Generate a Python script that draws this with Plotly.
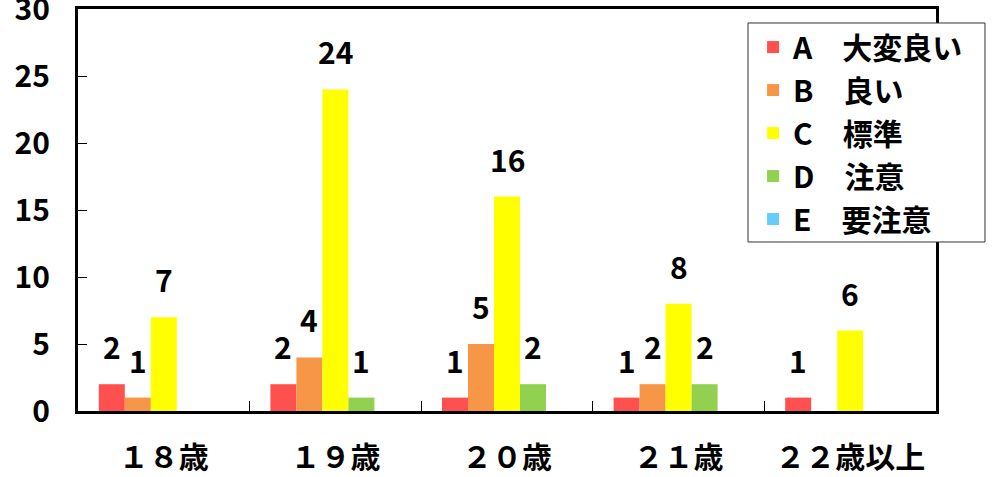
import plotly.graph_objects as go

categories = ["１８歳", "１９歳", "２０歳", "２１歳", "２２歳以上"]
series_names = ["A\u3000大変良い", "B\u3000良い", "C\u3000標準", "D\u3000注意", "E\u3000要注意"]
values_A = [2, 2, 1, 1, 1]
values_B = [1, 4, 5, 2, 0]
values_C = [7, 24, 16, 8, 6]
values_D = [0, 1, 2, 2, 0]
values_E = [0, 0, 0, 0, 0]
colors = ["#FF5050", "#F79646", "#FFFF00", "#92D050", "#66CCFF"]
y_ticks = [0, 5, 10, 15, 20, 25, 30]

all_values = [values_A, values_B, values_C, values_D, values_E]
FONT = "Noto Sans CJK JP"
FS = 30
BARGAP = 0.2424

fig = go.Figure()
for k, (name, vals, col) in enumerate(zip(series_names, all_values, colors)):
    fig.add_trace(go.Bar(
        x=categories, y=vals, name=name, marker_color=col,
        marker_line_width=0, legendgroup=name,
    ))

# data labels above bars (skip zeros)
n = len(all_values)
w = (1 - BARGAP) / n
annotations = []
for k, vals in enumerate(all_values):
    for i, v in enumerate(vals):
        if v > 0:
            annotations.append(dict(
                x=i + (k - (n - 1) / 2) * w, y=v, xref="x", yref="y",
                text=str(v), showarrow=False, yanchor="bottom", yshift=14,
                font=dict(family=FONT, size=FS, color="black", weight="bold"),
            ))

# legend frame (white box with thin border), drawn over the plot border
legend_box = dict(
    type="rect", xref="paper", yref="paper",
    x0=0.7809, x1=1.0571, y0=0.4204, y1=0.9652,
    fillcolor="white", line=dict(color="#333333", width=1), layer="above",
)

fig.update_layout(
    width=995, height=477,
    margin=dict(l=78, r=59, t=9, b=66, autoexpand=False),
    paper_bgcolor="white", plot_bgcolor="white",
    barmode="group", bargap=BARGAP, bargroupgap=0,
    font=dict(family=FONT, size=FS, color="black", weight="bold"),
    annotations=annotations,
    shapes=[legend_box],
    legend=dict(
        x=0.7868, y=0.970, xanchor="left", yanchor="top",
        bgcolor="rgba(0,0,0,0)", borderwidth=0,
        font=dict(family=FONT, size=FS, color="black", weight="bold"),
        traceorder="grouped", tracegroupgap=1,
    ),
    showlegend=True,
)
fig.update_xaxes(
    type="category", showline=True, linecolor="black", linewidth=3, mirror=True,
    ticks="inside", tickson="boundaries", ticklen=10, tickcolor="black", tickwidth=1,
    showgrid=False, ticklabelstandoff=18, automargin=False,
    tickfont=dict(family=FONT, size=FS, color="black", weight="bold"),
)
fig.update_yaxes(
    range=[0, 30], tickvals=y_ticks, showline=True, linecolor="black", linewidth=3, mirror=True,
    ticks="inside", ticklen=9, tickcolor="black", tickwidth=1,
    showgrid=False, zeroline=False, ticklabelstandoff=19, ticklabeloverflow="allow",
    automargin=False,
    tickfont=dict(family=FONT, size=FS, color="black", weight="bold"),
)

fig.write_html("out.html")
